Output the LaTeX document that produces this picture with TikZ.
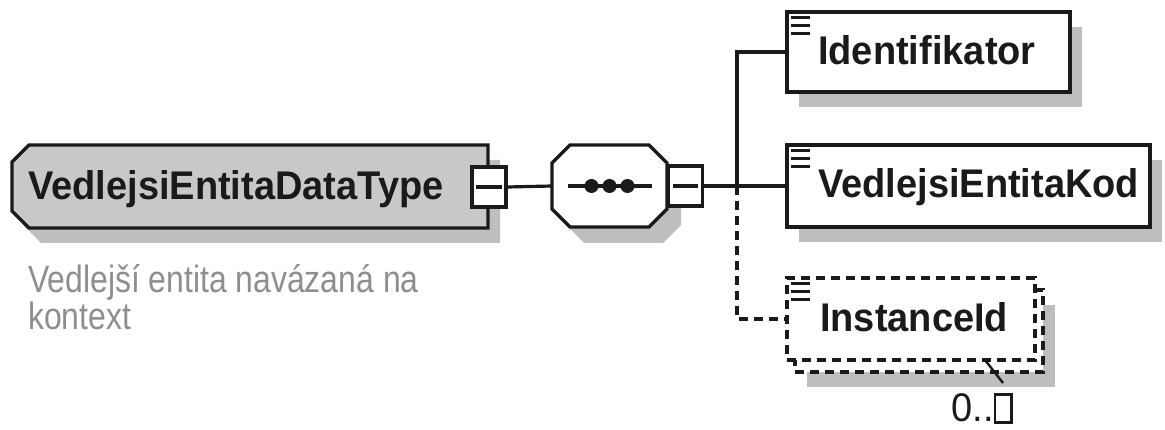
\documentclass[tikz,border=0pt]{standalone}
\usepackage{fontspec}
\setmainfont{Liberation Sans}
\newfontfamily\xsdfont[FakeStretch=0.95]{Liberation Sans}
\newfontfamily\docfont[FakeStretch=0.84]{Liberation Sans}
\usetikzlibrary{positioning,shadows}
\definecolor{boxgray}{HTML}{C8C8C8}
\definecolor{shadowgray}{HTML}{BEBEBE}
\definecolor{docgray}{HTML}{8E8E8E}
\definecolor{inkdark}{HTML}{1A1A1A}

\begin{document}
\begin{tikzpicture}[x=1pt, y=-1pt,
  xsdline/.style={line width=3.2pt, draw=inkdark},
  xsddash/.style={dash pattern=on 9pt off 6pt},
  shadowed/.style={drop shadow={shadow xshift=12pt, shadow yshift=-15pt,
                   fill=shadowgray, draw=none, opacity=1}},
  elembox/.style={xsdline, fill=white, inner sep=0pt, shadowed},
  slot/.style={inner sep=0pt},
  xsdbtn/.style={xsdline, fill=white, inner sep=0pt, minimum width=34pt,
                 minimum height=40pt},
  elemlbl/.style={font=\xsdfont\bfseries\fontsize{40}{44}\selectfont,
                  text=inkdark, inner sep=0pt, anchor=base west}]
  \useasboundingbox (0,0) rectangle (1165,430);

  % complex type with its documentation
  \node[slot, minimum width=476pt, minimum height=83pt] (dtype) at (250,186.5) {};
  \foreach \dx/\dy/\col in {12/15/shadowgray, 0/0/boxgray}
    \path[fill=\col, shift={(\dx,\dy)}] (29,145) -- (488,145) -- (488,228)
      -- (29,228) -- (12,211) -- (12,162) -- cycle;
  \draw[xsdline, line join=miter] (29,145) -- (488,145) -- (488,228)
      -- (29,228) -- (12,211) -- (12,162) -- cycle;
  \node[elemlbl] (dtypelbl) at (28,200) {VedlejsiEntitaDataType};
  \node[xsdbtn] (dtypebtn) at (489,187) {};
  \draw[xsdline] ([xshift=6pt]dtypebtn.west) -- ([xshift=-6pt]dtypebtn.east);
  \node[font=\docfont\fontsize{38}{37}\selectfont, text=docgray, align=left,
        inner sep=0pt, anchor=base west] (dtypedoc) at (28,330)
        {Vedlejší entita navázaná na\\kontext};

  % sequence compositor
  \node[slot, minimum width=115pt, minimum height=82pt] (seq) at (609.5,186) {};
  \foreach \dx/\dy/\col in {14/16/shadowgray, 0/0/white}
    \path[fill=\col, shift={(\dx,\dy)}] (570,145) -- (649,145) -- (667,163)
      -- (667,209) -- (649,227) -- (570,227) -- (552,209) -- (552,163) -- cycle;
  \draw[xsdline] (570,145) -- (649,145) -- (667,163) -- (667,209)
      -- (649,227) -- (570,227) -- (552,209) -- (552,163) -- cycle;
  \draw[xsdline] ([xshift=-42pt]seq.center) -- ([xshift=42pt]seq.center);
  \foreach \dx in {-18,0,18}
    \fill[inkdark] ([xshift=\dx pt]seq.center) circle (7);
  \node[xsdbtn] (seqbtn) at (685.5,186) {};
  \draw[xsdline] ([xshift=6pt]seqbtn.west) -- ([xshift=-6pt]seqbtn.east);

  % child elements
  \node[elembox, minimum width=283pt, minimum height=80pt] (ident) at (928.5,52) {};
  \node[elembox, minimum width=363pt, minimum height=82pt] (kod) at (968.5,186) {};
  \node[elembox, xsddash, minimum width=248pt, minimum height=82pt] (instback) at (919,331) {};
  \node[xsdline, xsddash, fill=white, inner sep=0pt,
        minimum width=248pt, minimum height=82pt] (inst) at (911,319) {};
  \foreach \el in {ident,kod,inst}
    \foreach \dy in {7,15,23}
      \draw[line width=2.8pt, inkdark] ([xshift=6pt,yshift=-\dy pt]\el.north west)
        -- ++(19,0);
  \node[elemlbl] (identlbl) at (818,65) {Identifikator};
  \node[elemlbl] (kodlbl) at (818,198) {VedlejsiEntitaKod};
  \node[elemlbl] (instlbl) at (820,332) {InstanceId};

  % occurrence
  \coordinate (multtop) at (985,360);
  \node[font=\xsdfont\fontsize{40}{44}\selectfont, text=inkdark, inner sep=0pt,
        anchor=base east] (mult) at (1013,421)
        {0..\setlength{\fboxrule}{2.6pt}\setlength{\fboxsep}{0pt}%
         \fbox{\rule{0pt}{25pt}\hspace{14pt}}};
  \draw[line width=2.4pt, inkdark] (multtop) -- ++(18,23);

  % connectors
  \coordinate (bus) at (737,186);
  \draw[xsdline] (dtypebtn.east) -- (seq.west);
  \draw[xsdline] (seqbtn.east) -- (kod.west);
  \draw[xsdline] (ident.west) -| (bus);
  \draw[xsdline, xsddash] (bus) |- (inst.west);
\end{tikzpicture}
\end{document}
